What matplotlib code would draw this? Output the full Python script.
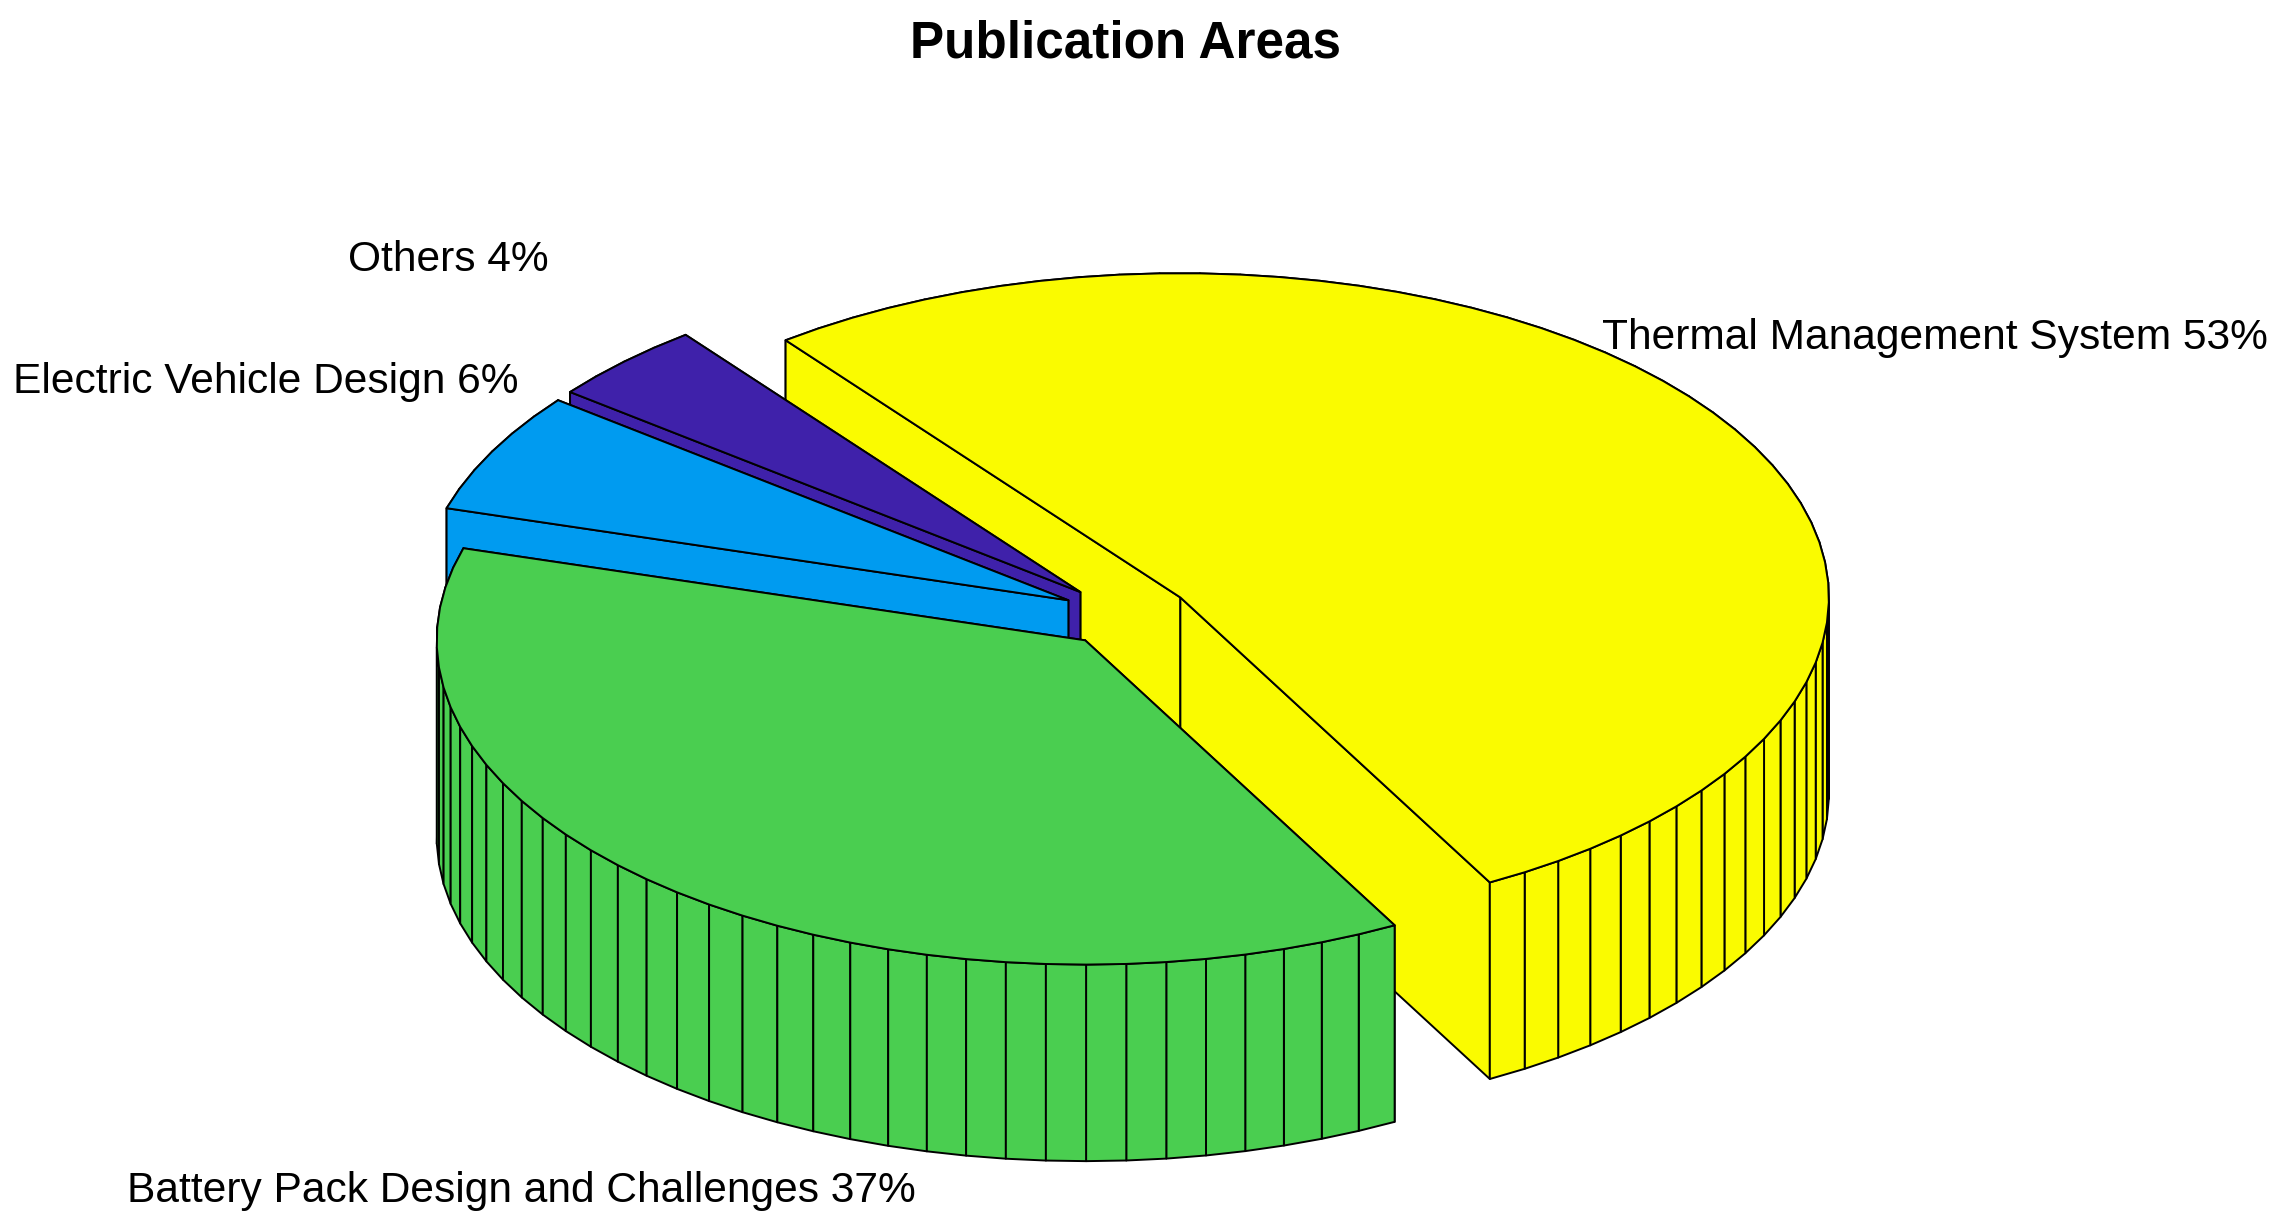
import numpy as np
import matplotlib
matplotlib.use('Agg')
import matplotlib.pyplot as plt
from matplotlib.patches import Polygon

plt.rcParams['font.family'] = ['Liberation Sans', 'DejaVu Sans']

# datos del grafico
areas = ['Thermal Management System', 'Battery Pack Design and Challenges',
         'Electric Vehicle Design', 'Others']
etiquetas_pct = [53, 37, 6, 4]
porcentajes = [52.5, 37.5, 6, 4]
colores = ['#FAFB00', '#4ACE50', '#009BF0', '#3F21AA']

W, H = 2284, 1226
# geometria de la vista (az -37.5, el 30), radio y centro en pixeles
AZ = np.radians(-37.5)
EL = np.radians(30)
ALTURA = 0.35
EXPLODE = 0.1
R_PX = 648.5
CX_PX = 1126.0
CY_PX = 811.7


def proyecta(x, y, z):
    sx = x * np.cos(AZ) + y * np.sin(AZ)
    sy = (-x * np.sin(AZ) + y * np.cos(AZ)) * np.sin(EL) + z * np.cos(EL)
    return sx, sy


def cara(ax, xs, ys, zs, color, orden):
    sx, sy = proyecta(np.asarray(xs), np.asarray(ys), np.asarray(zs))
    ax.add_patch(Polygon(np.column_stack([sx, sy]), closed=True, facecolor=color,
                         edgecolor='black', linewidth=1.4, joinstyle='round', zorder=orden))


def sector(ax, inicio, fin, color, base):
    # los angulos van en sentido horario desde el norte
    n = int(np.ceil(100 * (fin - inicio) / (2 * np.pi) - 1e-9))
    t = np.linspace(inicio, fin, n + 1)
    medio = (inicio + fin) / 2
    ox, oy = EXPLODE * np.sin(medio), EXPLODE * np.cos(medio)
    xb, yb = ox + np.sin(t), oy + np.cos(t)

    # paredes: primero radiales y facetas de atras hacia adelante
    paredes = []
    paredes.append(([ox, xb[0]], [oy, yb[0]]))
    paredes.append(([ox, xb[-1]], [oy, yb[-1]]))
    for i in range(n):
        paredes.append(([xb[i], xb[i + 1]], [yb[i], yb[i + 1]]))

    def profundidad(p):
        return proyecta(np.mean(p[0]), np.mean(p[1]), 0)[1]

    paredes.sort(key=profundidad, reverse=True)
    orden = base
    for px, py in paredes:
        cara(ax, [px[0], px[1], px[1], px[0]], [py[0], py[1], py[1], py[0]],
             [0, 0, ALTURA, ALTURA], color, orden)
        orden += 0.001

    # tapa superior
    cara(ax, np.r_[ox, xb], np.r_[oy, yb], np.full(n + 2, ALTURA), color, base + 0.9)


fig = plt.figure(figsize=(W / 100, H / 100), dpi=100)
ax = fig.add_axes([0, 0, 1, 1])
ax.set_xlim((0 - CX_PX) / R_PX, (W - CX_PX) / R_PX)
ax.set_ylim((CY_PX - H) / R_PX, CY_PX / R_PX)
ax.axis('off')

fracciones = np.array(porcentajes) / sum(porcentajes)
limites = np.r_[0, np.cumsum(fracciones)] * 2 * np.pi

# orden de dibujo: amarillo, morado, azul, verde
for pos, i in enumerate([0, 3, 2, 1]):
    sector(ax, limites[i], limites[i + 1], colores[i], pos + 1)

posiciones = [(1602, 338), (127, 1191), (13, 382), (348, 260)]
for nombre, valor, (px, py) in zip(areas, etiquetas_pct, posiciones):
    fig.text(px / W, 1 - py / H, f'{nombre} {valor}%', fontsize=30.6,
             ha='left', va='center', color='black')

fig.text(1126 / W, 1 - 44 / H, 'Publication Areas', fontsize=36.9, fontweight='bold',
         ha='center', va='center', color='black')

fig.savefig('out.png', dpi=100, facecolor='white')
